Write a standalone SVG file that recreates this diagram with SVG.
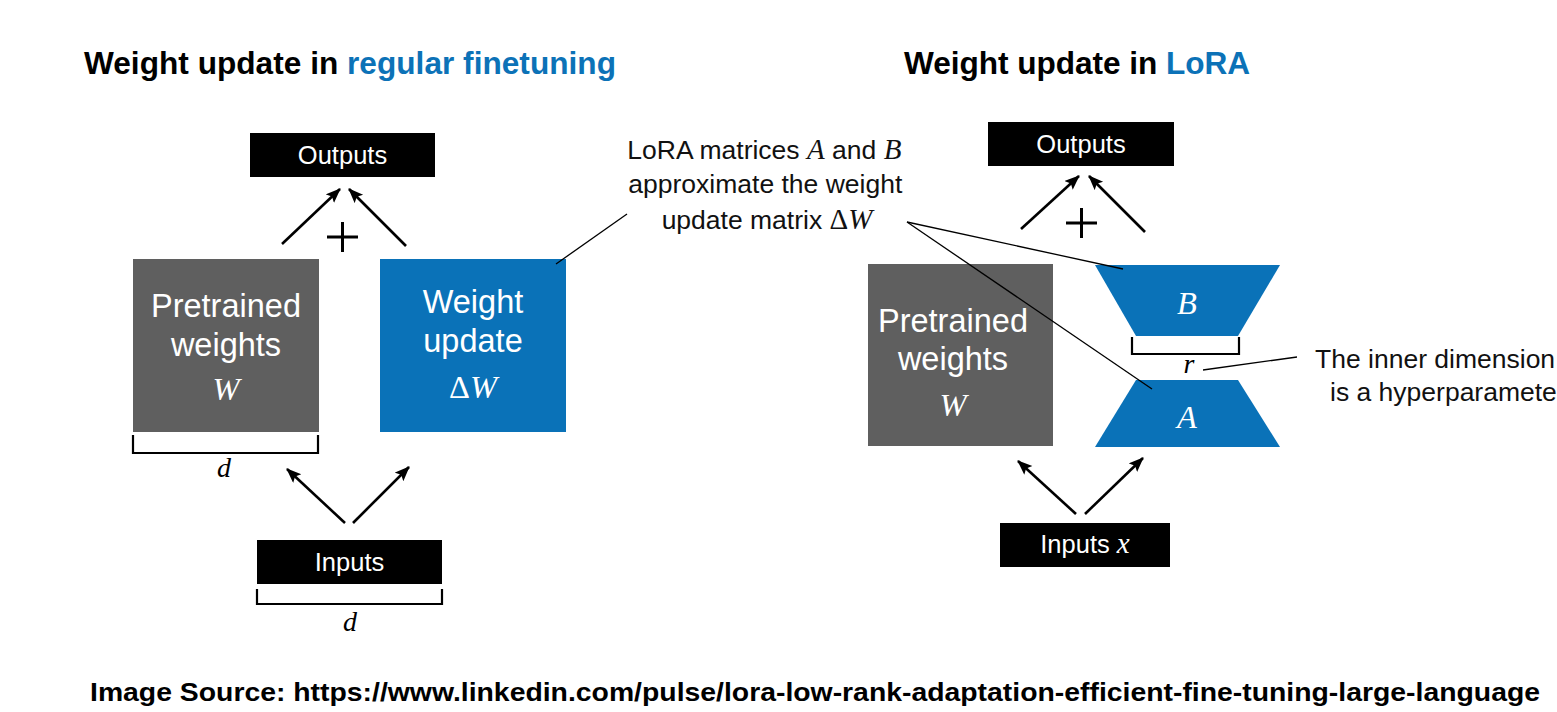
<svg xmlns="http://www.w3.org/2000/svg" width="1557" height="712" viewBox="0 0 1557 712">
<style>
.title{font-family:"Liberation Sans",Arial,sans-serif;font-weight:bold;font-size:31.6px;fill:#000}
.blue{fill:#0c72b7}
.lbl{font-family:"Liberation Sans",Arial,sans-serif;font-size:25.5px;fill:#fff;text-anchor:middle}
.box{font-family:"Liberation Sans",Arial,sans-serif;font-size:32.5px;fill:#fff;text-anchor:middle}
.math{font-family:"Liberation Serif","Times New Roman",serif;font-style:italic}
.mathU{font-family:"Liberation Serif","Times New Roman",serif;font-style:normal}
.note{font-family:"Liberation Sans",Arial,sans-serif;font-size:26.5px;fill:#111}
.arrow{stroke:#000;stroke-width:2.6;fill:none;marker-end:url(#ah)}
.lead{stroke:#000;stroke-width:1.3;fill:none}
.brk{stroke:#000;stroke-width:2.2;fill:none}
.plus{stroke:#000;stroke-width:3;fill:none}
</style>
<defs>
<marker id="ah" markerUnits="userSpaceOnUse" markerWidth="16" markerHeight="14" refX="14" refY="6" orient="auto">
<path d="M0,0 L15,6 L0,12 L3,6 z" fill="#000"/>
</marker>
</defs>
<rect width="1557" height="712" fill="#fff"/>

<g id="title-left"><text class="title" x="84" y="74" textLength="532">Weight update in <tspan class="blue">regular finetuning</tspan></text></g>
<g id="title-right"><text class="title" x="904" y="74" textLength="346">Weight update in <tspan class="blue">LoRA</tspan></text></g>

<g id="outputs-left"><rect x="250" y="133" width="185" height="44" fill="#000"/><text class="lbl" x="342.5" y="164">Outputs</text></g>
<g id="pretrained-left"><rect x="133" y="259" width="186" height="173" fill="#5f5f5f"/>
<text class="box" x="226" y="317">Pretrained</text><text class="box" x="226" y="356">weights</text>
<text class="box math" x="226" y="400" font-size="40">W</text></g>
<g id="update-left"><rect x="380" y="259" width="186" height="173" fill="#0a72b8"/>
<text class="box" x="473" y="313">Weight</text><text class="box" x="473" y="352">update</text>
<text class="box" x="473" y="398" font-size="40"><tspan class="mathU">Δ</tspan><tspan class="math">W</tspan></text></g>
<g id="inputs-left"><rect x="257" y="540" width="185" height="44" fill="#000"/><text class="lbl" x="349.5" y="571">Inputs</text></g>
<g id="dim-left">
<polyline class="brk" points="133,435 133,453 318,453 318,435"/>
<text class="math" x="224" y="477" font-size="28" text-anchor="middle">d</text>
<polyline class="brk" points="257,589 257,604 442,604 442,589"/>
<text class="math" x="350" y="631" font-size="28" text-anchor="middle">d</text>
</g>
<g id="plus-left"><path class="plus" d="M327,237 H358 M342.5,222 V252"/></g>

<g id="callout"><text class="note" text-anchor="middle">
<tspan x="768" y="159">LoRA matrices <tspan class="math" font-size="29">A</tspan> and <tspan class="math" font-size="29">B</tspan></tspan>
<tspan x="769" y="193">approximate the weight</tspan>
<tspan x="767" y="229">update matrix <tspan class="mathU" font-size="29">Δ</tspan><tspan class="math" font-size="29">W</tspan></tspan></text></g>

<g id="outputs-right"><rect x="988" y="122" width="186" height="44" fill="#000"/><text class="lbl" x="1081" y="153">Outputs</text></g>
<g id="pretrained-right"><rect x="868" y="264" width="185" height="182" fill="#5f5f5f"/>
<text class="box" x="953" y="332">Pretrained</text><text class="box" x="953" y="370">weights</text>
<text class="box math" x="953" y="416" font-size="40">W</text></g>
<g id="matrix-B"><polygon points="1095,265 1280,265 1238,336 1136,336" fill="#0a72b8"/>
<text class="box math" x="1187" y="314" font-size="36">B</text></g>
<g id="matrix-A"><polygon points="1136,380 1238,380 1280,447 1095,447" fill="#0a72b8"/>
<text class="box math" x="1187" y="428" font-size="36">A</text></g>
<g id="dim-r"><polyline class="brk" points="1132,337 1132,354 1239,354 1239,337"/>
<text class="math" x="1189" y="373" font-size="28" text-anchor="middle">r</text></g>
<g id="inputs-right"><rect x="1000" y="523" width="170" height="44" fill="#000"/>
<text class="lbl" x="1085" y="553">Inputs <tspan class="math" font-size="29">x</tspan></text></g>
<g id="plus-right"><path class="plus" d="M1066,223 H1097 M1081.5,208 V238"/></g>
<g id="note-r"><text class="note"><tspan x="1315" y="368">The inner dimension</tspan><tspan x="1330" y="401">is a hyperparameter</tspan></text></g>

<g id="connectors">
<line class="arrow" x1="282" y1="244" x2="340" y2="189"/>
<line class="arrow" x1="406" y1="246" x2="349" y2="189"/>
<line class="arrow" x1="345" y1="523" x2="287" y2="469"/>
<line class="arrow" x1="353" y1="523" x2="409" y2="467"/>
<line class="arrow" x1="1021" y1="229" x2="1079" y2="176"/>
<line class="arrow" x1="1145" y1="232" x2="1089" y2="176"/>
<line class="arrow" x1="1076" y1="514" x2="1018" y2="461"/>
<line class="arrow" x1="1085" y1="514" x2="1143" y2="458"/>
<line class="lead" x1="556" y1="264" x2="627" y2="214"/>
<line class="lead" x1="907" y1="222" x2="1123" y2="269"/>
<line class="lead" x1="907" y1="222" x2="1152" y2="389"/>
<line class="lead" x1="1203" y1="370" x2="1297" y2="357"/>
</g>

<g id="footer"><text x="90" y="701" font-family="'Liberation Sans',Arial,sans-serif" font-weight="bold" font-size="26" fill="#000" textLength="1450" lengthAdjust="spacingAndGlyphs">Image Source: https://www.linkedin.com/pulse/lora-low-rank-adaptation-efficient-fine-tuning-large-language</text></g>
</svg>
